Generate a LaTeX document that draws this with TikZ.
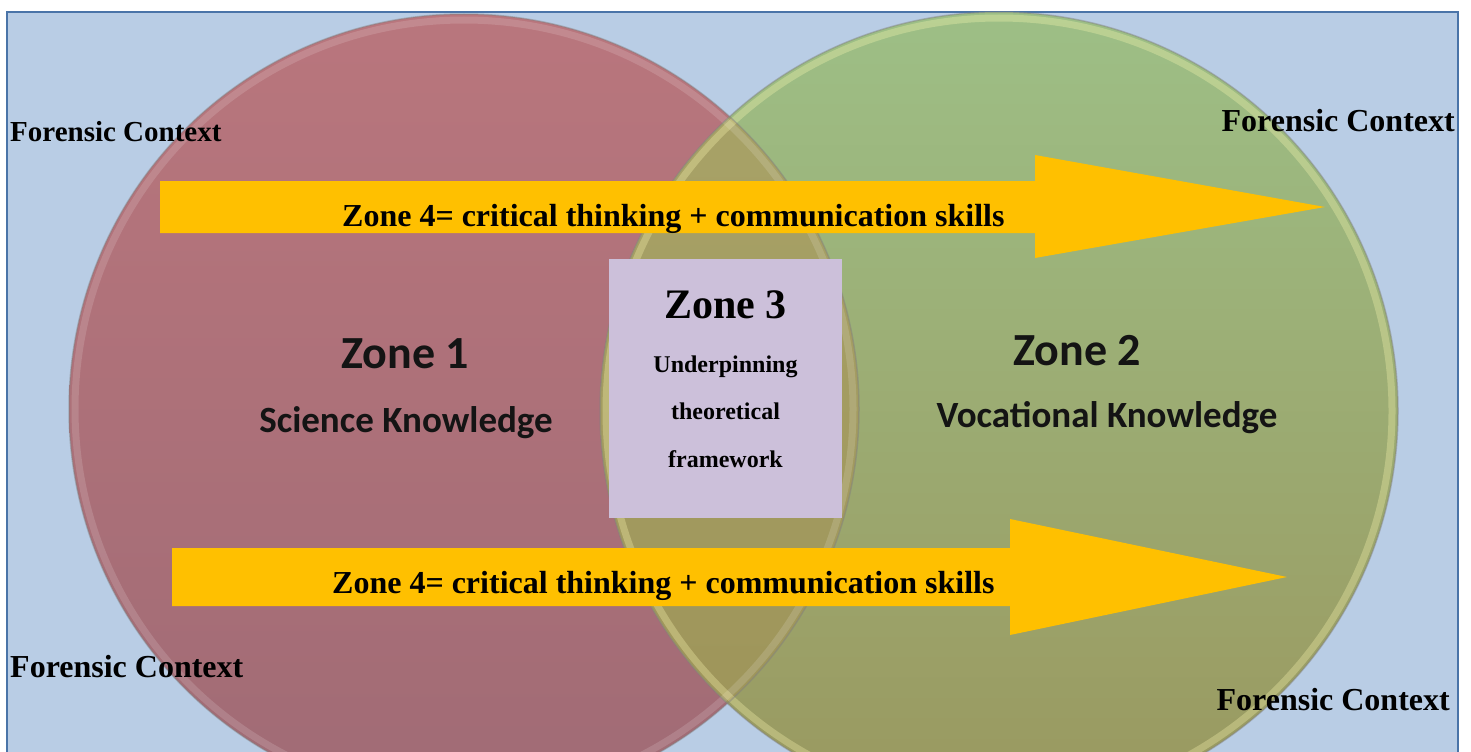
\documentclass[tikz,border=0pt]{standalone}
\usepackage{fontspec}
\setmainfont{Liberation Serif}
\newfontfamily\calfont{Carlito}
\usetikzlibrary{calc}
\definecolor{bgblue}{HTML}{B9CDE5}
\definecolor{frameblue}{HTML}{4A74A8}
\definecolor{redtop}{HTML}{B9767D}
\definecolor{redbot}{HTML}{A06B75}
\definecolor{greentop}{HTML}{9DBF86}
\definecolor{greenbot}{HTML}{9A985F}
\definecolor{ovtop}{HTML}{A9A469}
\definecolor{ovbot}{HTML}{9D9358}
\definecolor{arrowgold}{HTML}{FFC000}
\definecolor{zonethree}{HTML}{CCC0DA}
\tikzset{
  ctx/.style={font=\bfseries\fontsize{32bp}{38bp}\selectfont, inner sep=0pt},
  zonetitle/.style={font=\calfont\bfseries\fontsize{46bp}{54bp}\selectfont, inner sep=0pt, anchor=base, text=black!92},
  zonesub/.style={font=\calfont\bfseries\fontsize{37bp}{44bp}\selectfont, inner sep=0pt, anchor=base, text=black!92},
  arrowtxt/.style={font=\bfseries\fontsize{32bp}{38bp}\selectfont, inner sep=0pt, anchor=base west},
  zthree/.style={font=\bfseries\fontsize{24bp}{28bp}\selectfont, inner sep=0pt, anchor=base},
  bigarrow/.style={fill=arrowgold, draw=none},
  rimout/.style={draw=black!50, draw opacity=0.45, line width=1.5bp},
  rimin/.style={draw=white, draw opacity=0.14, line width=7bp}
}
\begin{document}
\begin{tikzpicture}[x=1bp,y=-1bp]
\useasboundingbox (0,0) rectangle (1471,751);
\fill[white] (0,0) rectangle (1471,751);
\begin{scope}
\clip (0,0) rectangle (1471,751);
% frame
\path[fill=bgblue, draw=frameblue, line width=2bp] (7,12) rectangle (1458,770);
% circles
\coordinate (rc) at (464,409);
\coordinate (gc) at (999,411);
\shade[top color=redtop, bottom color=redbot] (rc) circle[radius=395];
\shade[top color=greentop, bottom color=greenbot] (gc) circle[radius=399];
\begin{scope}
  \clip (rc) circle[radius=395];
  \shade[top color=ovtop, bottom color=ovbot] (gc) circle[radius=399];
\end{scope}
\draw[rimin] (rc) circle[radius=389];
\draw[rimin, draw=yellow!30!white, draw opacity=0.3] (gc) circle[radius=393];
\draw[rimout] (rc) circle[radius=395];
\draw[rimout] (gc) circle[radius=399];
\end{scope}

% arrows
\coordinate (a1s) at (160,181);
\path[bigarrow] (a1s) -- (1035,181) -- (1035,155) -- (1325,207) -- (1035,258) -- (1035,233) -- (160,233) -- cycle;
\coordinate (a2s) at (172,548);
\path[bigarrow] (a2s) -- (1010,548) -- (1010,519) -- (1287,577) -- (1010,635) -- (1010,606) -- (172,606) -- cycle;
\node[arrowtxt] (z4a) at (342,226) {Zone 4= critical thinking + communication skills};
\node[arrowtxt] (z4b) at (332,593) {Zone 4= critical thinking + communication skills};

% zone 3 box
\node[fill=zonethree, draw=none, minimum width=233bp, minimum height=259bp, inner sep=0pt, anchor=north west] (z3box) at (609,259) {};
\node[font=\bfseries\fontsize{42bp}{48bp}\selectfont, inner sep=0pt, anchor=base] (z3t) at (725.5,318) {Zone 3};
\node[zthree] (z3a) at (725.5,372) {Underpinning};
\node[zthree] (z3b) at (725.5,419) {theoretical};
\node[zthree] (z3c) at (725.5,467) {framework};

% zone 1 and 2
\node[zonetitle] (z1) at (405,368) {Zone 1};
\node[zonesub] (z1s) at (406,432) {Science Knowledge};
\node[zonetitle] (z2) at (1077,365) {Zone 2};
\node[zonesub] (z2s) at (1107,427) {Vocational Knowledge};

% forensic context labels
\node[ctx, font=\bfseries\fontsize{29bp}{35bp}\selectfont, anchor=base west] (fc1) at (10,141) {Forensic Context};
\node[ctx, anchor=base east] (fc2) at (1455,131) {Forensic Context};
\node[ctx, anchor=base west] (fc3) at (10,677) {Forensic Context};
\node[ctx, anchor=base east] (fc4) at (1450,710) {Forensic Context};
\end{tikzpicture}
\end{document}
